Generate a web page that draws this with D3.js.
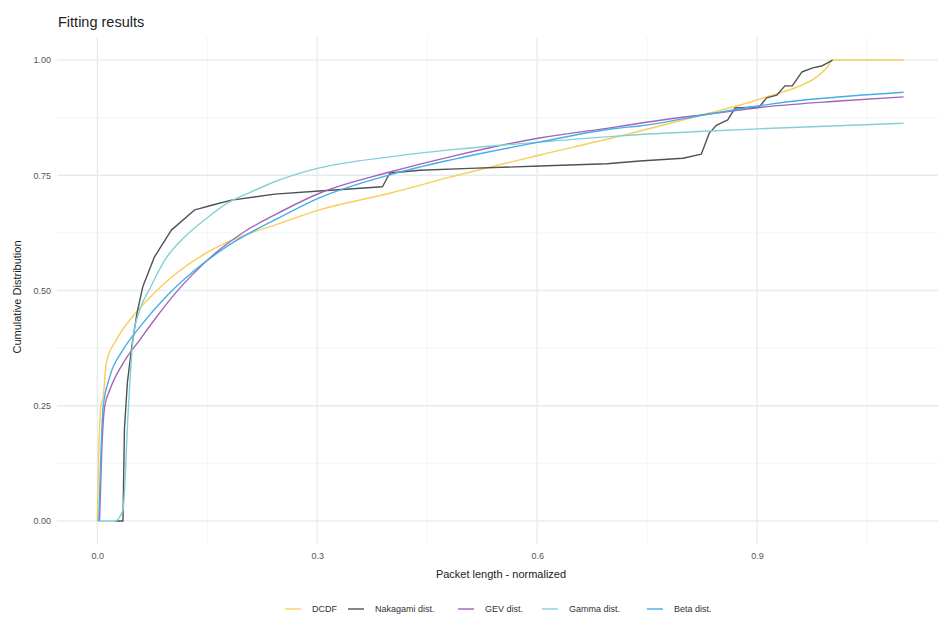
<!DOCTYPE html>
<html>
<head>
<meta charset="utf-8">
<script src="https://cdn.jsdelivr.net/npm/d3@7"></script>
<style>
  body { margin: 0; background: #fff; }
  text { font-family: "Liberation Sans", Arial, sans-serif; }
</style>
</head>
<body>
<script>
// values, [packet length, cumulative]
var dcdf = [[0,0],[0.002,0.15],[0.005,0.25],[0.008,0.27],[0.0125,0.345],[0.026,0.393],[0.048,0.443],
  [0.078,0.495],[0.110,0.540],[0.156,0.588],[0.201,0.620],[0.242,0.642],[0.303,0.675],[0.399,0.711],
  [0.481,0.746],[0.604,0.794],[0.708,0.833],[0.835,0.885],[0.876,0.902],[0.921,0.924],[0.954,0.941],
  [0.981,0.963],[0.996,0.985],[1.003,1.0],[1.10,1.0]];

var nakagami = [[0.024,0],[0.035,0],[0.037,0.2],[0.041,0.3],[0.047,0.378],[0.054,0.45],[0.062,0.508],
  [0.078,0.573],[0.101,0.631],[0.133,0.675],[0.156,0.685],[0.183,0.696],[0.242,0.709],[0.303,0.716],
  [0.389,0.725],[0.399,0.755],[0.44,0.761],[0.508,0.765],[0.603,0.770],[0.695,0.775],[0.740,0.781],
  [0.799,0.787],[0.824,0.796],[0.835,0.842],[0.845,0.859],[0.860,0.870],[0.870,0.896],[0.903,0.898],
  [0.913,0.918],[0.927,0.924],[0.938,0.944],[0.948,0.944],[0.961,0.974],[0.976,0.983],[0.988,0.987],[1.003,1.0]];

var gev = [[0.003,0],[0.006,0.15],[0.010,0.248],[0.017,0.284],[0.035,0.342],[0.058,0.393],[0.081,0.443],
  [0.108,0.497],[0.13,0.535],[0.164,0.585],[0.201,0.628],[0.242,0.664],[0.303,0.711],[0.399,0.757],
  [0.481,0.790],[0.603,0.831],[0.708,0.855],[0.740,0.863],[0.835,0.883],[0.921,0.900],[1.012,0.911],[1.10,0.920]];

var gamma = [[0,0],[0.024,0],[0.035,0.024],[0.042,0.234],[0.049,0.40],[0.058,0.458],[0.072,0.505],
  [0.092,0.566],[0.119,0.616],[0.151,0.659],[0.178,0.690],[0.210,0.714],[0.242,0.736],[0.303,0.766],
  [0.399,0.790],[0.481,0.805],[0.603,0.822],[0.708,0.835],[0.835,0.846],[0.921,0.852],[1.10,0.863]];

var beta = [[0.002,0],[0.005,0.15],[0.008,0.248],[0.017,0.313],[0.035,0.371],[0.058,0.421],[0.094,0.487],
  [0.13,0.540],[0.181,0.600],[0.242,0.653],[0.303,0.701],[0.399,0.751],[0.481,0.783],[0.603,0.822],
  [0.708,0.852],[0.740,0.857],[0.835,0.883],[0.921,0.905],[1.10,0.930]];

var seriesNames = ["DCDF", "Nakagami dist.", "GEV dist.", "Gamma dist.", "Beta dist."];
var seriesData = [dcdf, nakagami, gev, gamma, beta];
var xTicks = [0, 0.3, 0.6, 0.9];
var yTicks = [0, 0.25, 0.5, 0.75, 1];

var width = 938,
  height = 619;

var svg = d3.select("body").append("svg")
    .attr("width", width)
    .attr("height", height);

var x = d3.scaleLinear().domain([-0.055, 1.155]).range([57, 944]);
var y = d3.scaleLinear().domain([-0.05, 1.05]).range([544, 37]);

var color = d3.scaleOrdinal()
  .domain(seriesNames)
  .range(["#f8cd5a", "#4f5152", "#a464b6", "#84d0d6", "#45aee6"]);

// grid, minor first
var grid = svg.append("g");
var xMinor = [0.15, 0.45, 0.75, 1.05],
  yMinor = [0.125, 0.375, 0.625, 0.875];

grid.selectAll(".vminor").data(xMinor).enter().append("line")
  .attr("x1", function(d){ return x(d); }).attr("x2", function(d){ return x(d); })
  .attr("y1", 37).attr("y2", 544)
  .attr("stroke", "#eef1f1").attr("stroke-width", 0.7);
grid.selectAll(".hminor").data(yMinor).enter().append("line")
  .attr("y1", function(d){ return y(d); }).attr("y2", function(d){ return y(d); })
  .attr("x1", 57).attr("x2", width)
  .attr("stroke", "#eef1f1").attr("stroke-width", 0.7);
grid.selectAll(".vmajor").data(xTicks).enter().append("line")
  .attr("x1", function(d){ return x(d); }).attr("x2", function(d){ return x(d); })
  .attr("y1", 37).attr("y2", 544)
  .attr("stroke", "#e6ebeb").attr("stroke-width", 1.3);
grid.selectAll(".hmajor").data(yTicks).enter().append("line")
  .attr("y1", function(d){ return y(d); }).attr("y2", function(d){ return y(d); })
  .attr("x1", 57).attr("x2", width)
  .attr("stroke", "#e6ebeb").attr("stroke-width", 1.3);

// axes (text only, ggplot minimal style)
svg.append("g")
  .attr("transform", "translate(0,546)")
  .call(d3.axisBottom(x).tickValues(xTicks).tickFormat(d3.format(".1f")).tickSize(0).tickPadding(7));
svg.append("g")
  .attr("transform", "translate(57,0)")
  .call(d3.axisLeft(y).tickValues(yTicks).tickFormat(d3.format(".2f")).tickSize(0).tickPadding(6));
svg.selectAll(".domain").remove();
svg.selectAll(".tick text")
  .attr("fill", "#555")
  .style("font-size", "9px")
  .style("font-family", "'Liberation Sans', Arial, sans-serif");

// fitted curves smooth, nakagami kept as drawn steps
var smooth = d3.line()
  .curve(d3.curveMonotoneX)
  .x(function(d){ return x(d[0]); })
  .y(function(d){ return y(d[1]); });
var straight = d3.line()
  .x(function(d){ return x(d[0]); })
  .y(function(d){ return y(d[1]); });

svg.append("g").selectAll("path")
  .data(seriesData)
  .enter().append("path")
  .attr("d", function(d, i){ return i == 1 ? straight(d) : smooth(d); })
  .attr("fill", "none")
  .attr("stroke", function(d, i){ return color(seriesNames[i]); })
  .attr("stroke-width", 1.4)
  .attr("stroke-linejoin", "round");

// titles
svg.append("text")
  .attr("x", 58).attr("y", 27)
  .attr("fill", "#222")
  .style("font-size", "14.5px")
  .text("Fitting results");

svg.append("text")
  .attr("x", 501).attr("y", 578)
  .attr("text-anchor", "middle")
  .attr("fill", "#222")
  .style("font-size", "11px")
  .text("Packet length - normalized");

svg.append("text")
  .attr("transform", "translate(21,297) rotate(-90)")
  .attr("text-anchor", "middle")
  .attr("fill", "#222")
  .style("font-size", "11px")
  .text("Cumulative Distribution");

// legend
var legendX = [285, 348, 458, 542, 647];
var legend = svg.append("g").selectAll("g")
  .data(seriesNames)
  .enter().append("g")
  .attr("transform", function(d, i){ return "translate(" + legendX[i] + ",609)"; });

legend.append("line")
  .attr("x1", 0).attr("x2", 16)
  .attr("stroke", function(d){ return color(d); })
  .attr("stroke-width", 1.4);

legend.append("text")
  .attr("x", 27).attr("dy", "0.35em")
  .attr("fill", "#333")
  .style("font-size", "9px")
  .text(function(d){ return d; });
</script>
</body>
</html>
